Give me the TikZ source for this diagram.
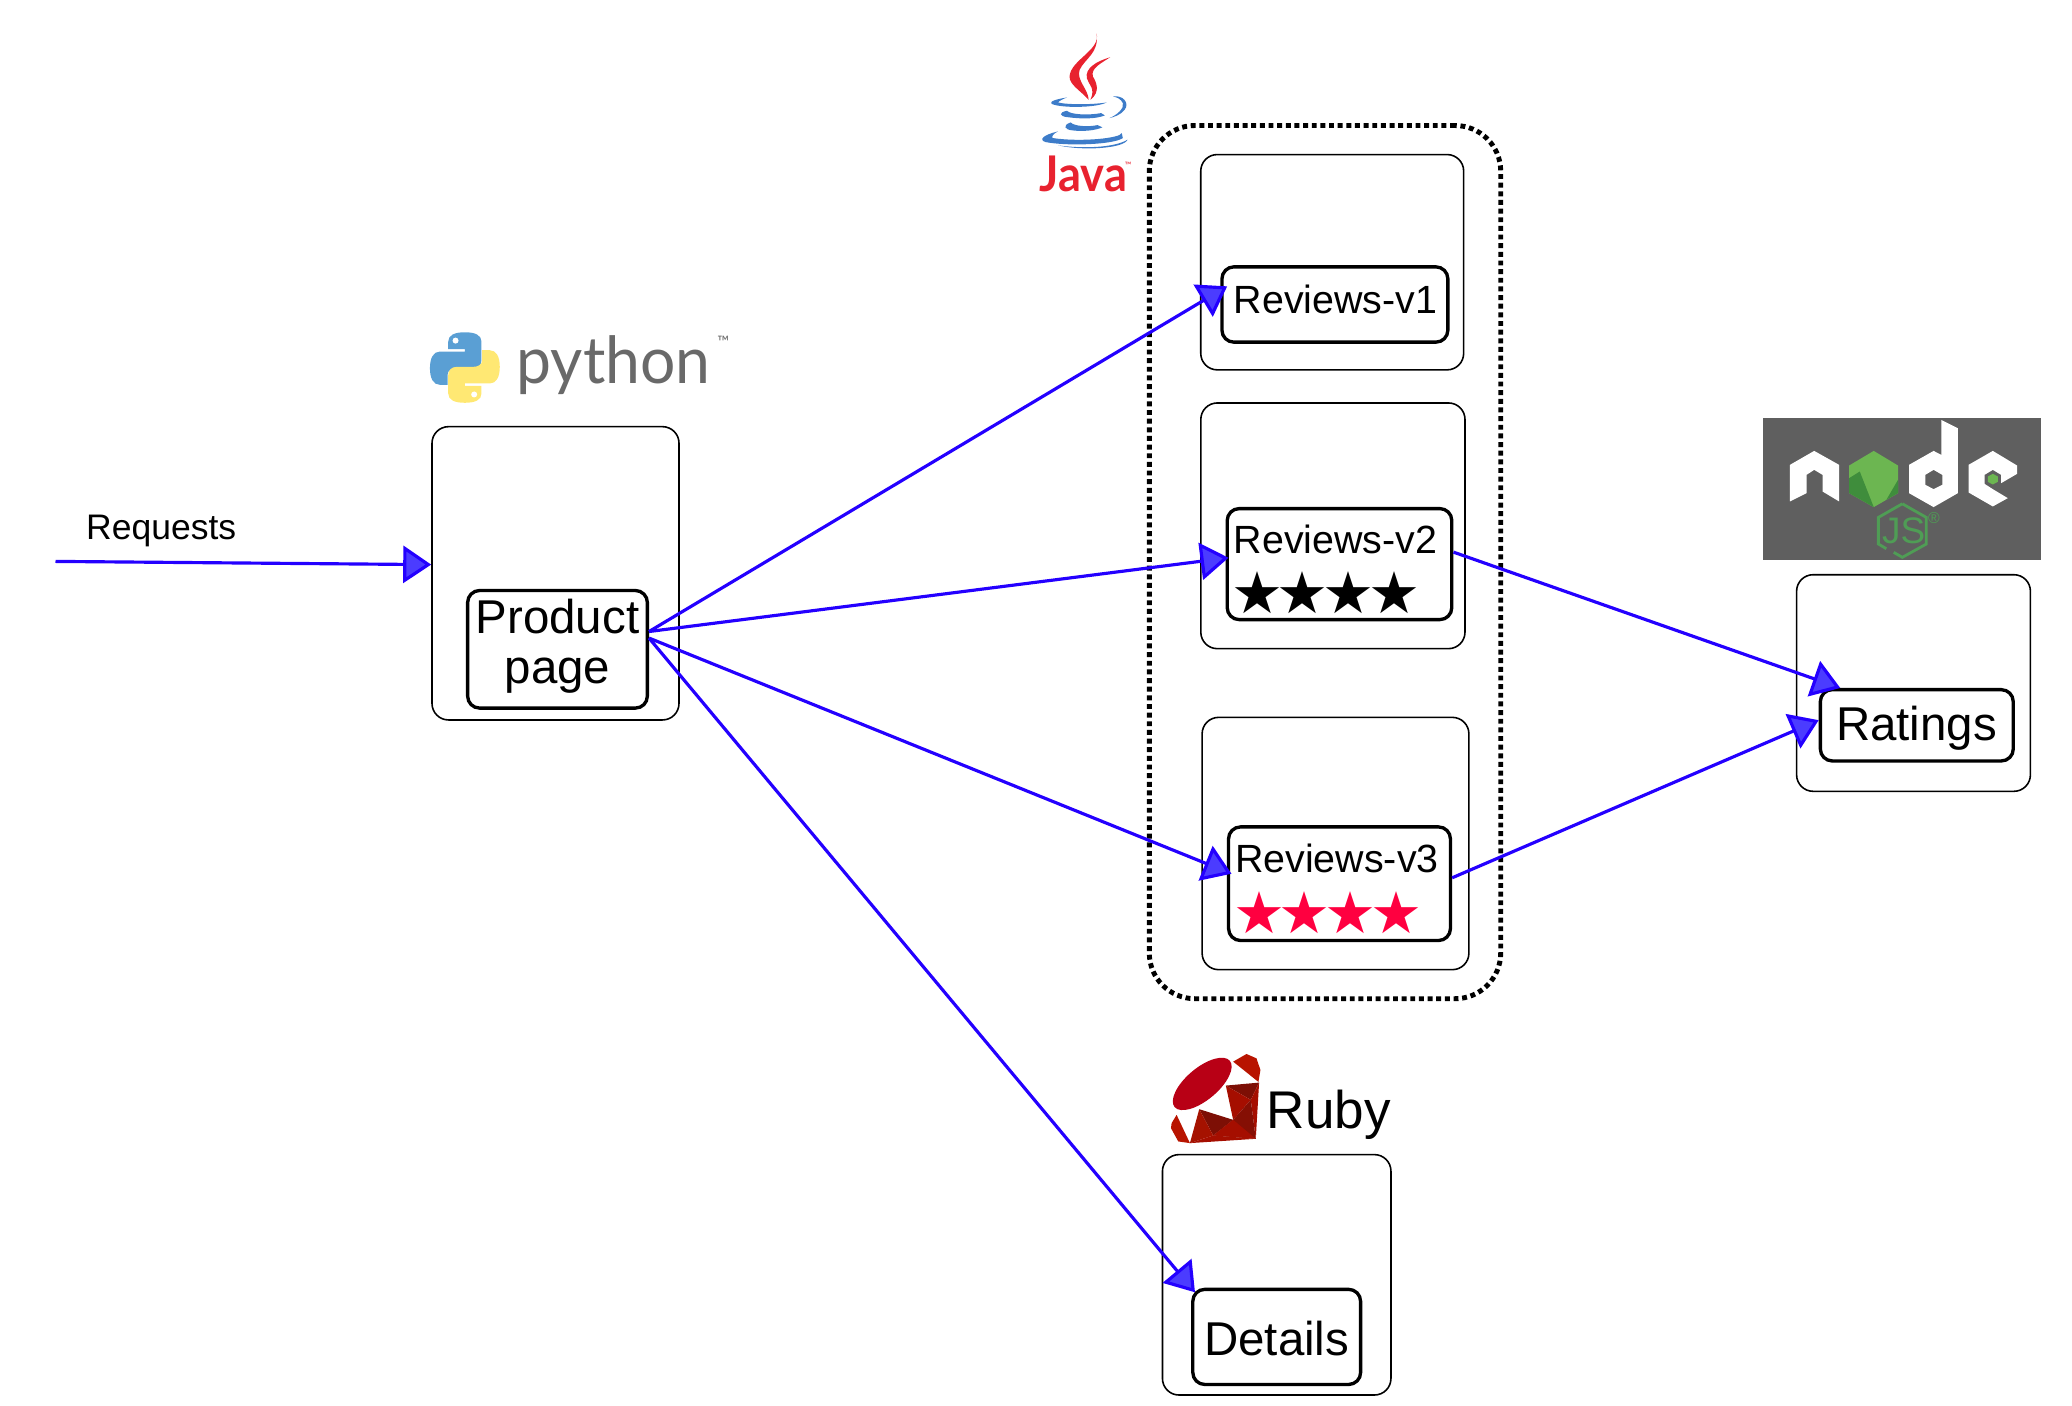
\documentclass[tikz,border=0pt]{standalone}
\usepackage{fontspec}
\setmainfont{Liberation Sans}
\newfontfamily\starfont{DejaVu Sans}
\newfontfamily\logofont{Lato}
\usetikzlibrary{positioning,
        arrows.meta}
\definecolor{linkblue}{HTML}{2400FF}
\definecolor{tipblue}{HTML}{4B3CFF}
\definecolor{pyblue}{HTML}{5A9FD4}
\definecolor{pyyellow}{HTML}{FFE873}
\definecolor{pygrey}{HTML}{696969}
\definecolor{javared}{HTML}{E8222F}
\definecolor{javablue}{HTML}{3D7CC9}
\definecolor{rubyred}{HTML}{B80015}
\definecolor{rubydark}{HTML}{7D0F05}
\definecolor{rubymid}{HTML}{A50E00}
\definecolor{rubylight}{HTML}{B81400}
\definecolor{nodegrey}{HTML}{5F5F5F}
\definecolor{nodegreen}{HTML}{6CB651}
\definecolor{nodedark}{HTML}{3F8D3C}
\definecolor{jsgreen}{HTML}{4F9D55}
\definecolor{starred}{HTML}{FF0040}
\newcommand{\fourstars}{★\kern-1.8pt★\kern-1.8pt★\kern-1.8pt★}
\tikzset{
        podbox/.style={draw,rounded corners=4.7pt,line width=0.45pt,inner sep=0pt},
        svcbox/.style={draw,rounded corners=3.4pt,line width=0.95pt,inner sep=0pt,align=center},
        svcbig/.style={svcbox,font=\fontsize{13.5}{14.3}\selectfont},
        versionlabel/.style={inner sep=0pt,font=\fontsize{11.2}{13}\selectfont},
        starrow/.style={inner sep=0pt,font=\starfont\fontsize{16.5}{17}\selectfont},
        call/.style={draw=linkblue,line width=0.9pt,-{Triangle[length=0.28cm,width=0.37cm,fill=tipblue]}}
}
\begin{document}
\begin{tikzpicture}
        \useasboundingbox (0,0) rectangle (20.72,-14.05);

        \node [draw,line width=1.4pt,dash pattern=on 1.4pt off 1.06pt,rounded corners=13pt,minimum width=3.514cm,minimum height=8.732cm] (java) at (13.25,-5.621) {};

        \node [podbox,minimum width=2.47cm,minimum height=2.933cm] (productpod) at (5.555,-5.733) {};
        \node [podbox,minimum width=2.629cm,minimum height=2.153cm] (v1pod) at (13.322,-2.622) {};
        \node [podbox,minimum width=2.642cm,minimum height=2.457cm] (v2pod) at (13.329,-5.258) {};
        \node [podbox,minimum width=2.668cm,minimum height=2.523cm] (v3pod) at (13.355,-8.435) {};
        \node [podbox,minimum width=2.338cm,minimum height=2.166cm] (ratingspod) at (19.135,-6.83) {};
        \node [podbox,minimum width=2.285cm,minimum height=2.404cm] (detailspod) at (12.767,-12.748) {};

        \node [svcbox,minimum width=1.797cm,minimum height=1.176cm] (product) at (5.575,-6.493) {};
        \node [svcbox,minimum width=2.259cm,minimum height=0.753cm] (v1) at (13.349,-3.045) {};
        \node [svcbox,minimum width=2.246cm,minimum height=1.11cm] (v2) at (13.395,-5.641) {};
        \node [svcbox,minimum width=2.219cm,minimum height=1.136cm] (v3) at (13.395,-8.837) {};
        \node [svcbig,minimum width=1.929cm,minimum height=0.713cm] (ratings) at (19.168,-7.253) {};
        \node [svcbig,minimum width=1.678cm,minimum height=0.951cm] (details) at (12.767,-13.369) {};

        \node [inner sep=0pt,align=center,font=\fontsize{13.5}{14.3}\selectfont] (productlabel) at (5.575,-6.465) {Product\\page};
        \node [inner sep=0pt,font=\fontsize{13.5}{14.3}\selectfont] (ratingslabel) at (19.165,-7.28) {Ratings};
        \node [inner sep=0pt,font=\fontsize{13.5}{14.3}\selectfont] (detailslabel) at (12.767,-13.382) {Details};
        \node [versionlabel] (v1label) at (13.355,-2.999) {Reviews-v1};
        \node [versionlabel] (v2label) at (13.355,-5.39) {Reviews-v2};
        \node [versionlabel] (v3label) at (13.369,-8.587) {Reviews-v3};
        \node [starrow] (v2stars) at (13.256,-5.931) {\fourstars};
        \node [starrow,text=starred] (v3stars) at (13.276,-9.128) {\fourstars};

        \node [inner sep=0pt,font=\fontsize{10.1}{12}\selectfont] (requests) at (1.612,-5.311) {Requests};
        \node [inner sep=0pt,font=\fontsize{15.1}{17}\selectfont] (ruby) at (13.289,-11.146) {Ruby};
        \coordinate (client) at (0.555,-5.614);

        \draw [call] (client) -- (productpod.176);
        \draw [call,shorten >=-0.08cm] (product.11) -- (v1.173);
        \draw [call,shorten >=-0.03cm] (product.11) -- (v2.177);
        \draw [call,shorten >=-0.05cm] (product.7) -- (v3.174.5);
        \draw [call,shorten >=-0.06cm] (product.7) -- (details.north west);
        \draw [call] (v2.6) -- (ratings.154.3);
        \draw [call] (v3.3) -- (ratings.177.6);

        \begin{scope}[shift={(4,-3)},x=0.003333cm,y=-0.003333cm]
                \fill [pyblue] (195,97) .. controls (165,97) and (145,105) .. (145,125) -- (145,148) -- (195,148) -- (195,155) -- (120,155) .. controls (100,155) and (90,175) .. (90,205) .. controls (90,235) and (100,255) .. (120,255) -- (143,255) -- (143,225) .. controls (143,212) and (155,205) .. (170,205) -- (220,205) .. controls (235,205) and (245,195) .. (245,180) -- (245,125) .. controls (245,105) and (225,97) .. (195,97) -- cycle;
                \fill [pyyellow] (195,309) .. controls (225,309) and (245,301) .. (245,281) -- (245,258) -- (195,258) -- (195,251) -- (270,251) .. controls (290,251) and (300,231) .. (300,201) .. controls (300,171) and (290,151) .. (270,151) -- (247,151) -- (247,181) .. controls (247,194) and (235,201) .. (220,201) -- (170,201) .. controls (155,201) and (145,211) .. (145,226) -- (145,281) .. controls (145,301) and (165,309) .. (195,309) -- cycle;
                \fill [white] (167,122) circle [radius=0.03cm];
                \fill [white] (223,284) circle [radius=0.03cm];
                \node [anchor=base,inner sep=0pt,text=pygrey,transform shape,xscale=0.96,font=\logofont\fontsize{18.5}{20}\selectfont] (pythonword) at (642,250) {python};
                \node [inner sep=0pt,text=pygrey,font=\logofont\fontsize{4.5}{5}\selectfont] (pythontm) at (972,125) {™};
        \end{scope}

        \begin{scope}[shift={(9.986,0)},x=0.0036cm,y=-0.003333cm]
                \fill [javared] (272,100) .. controls (285,150) and (200,180) .. (197,230) .. controls (197,255) and (225,270) .. (250,300) .. controls (250,270) and (215,240) .. (225,210) .. controls (240,175) and (280,160) .. (272,100) -- cycle;
                \fill [javared] (310,172) .. controls (270,185) and (240,205) .. (245,235) .. controls (250,255) and (270,265) .. (255,300) .. controls (285,275) and (270,245) .. (262,230) .. controls (255,205) and (285,190) .. (310,172) -- cycle;
                \fill [javablue] (190,293) .. controls (160,298) and (140,305) .. (147,312) .. controls (170,325) and (270,325) .. (300,308) .. controls (260,315) and (190,315) .. (165,308) .. controls (170,302) and (180,297) .. (190,293) -- cycle;
                \fill [javablue] (318,290) .. controls (345,285) and (365,310) .. (350,330) .. controls (340,345) and (320,352) .. (308,355) .. controls (330,345) and (350,325) .. (345,310) .. controls (340,298) and (330,293) .. (318,290) -- cycle;
                \fill [javablue] (190,333) .. controls (165,338) and (170,350) .. (190,352) .. controls (230,358) and (270,358) .. (295,347) -- (285,340) .. controls (250,347) and (200,345) .. (190,333) -- cycle;
                \fill [javablue] (200,368) .. controls (175,378) and (185,390) .. (205,392) .. controls (235,396) and (270,392) .. (288,383) -- (275,376) .. controls (250,382) and (210,380) .. (200,368) -- cycle;
                \fill [javablue] (165,395) .. controls (125,405) and (110,420) .. (130,427) .. controls (190,440) and (320,435) .. (345,415) -- (342,400) .. controls (340,415) and (230,428) .. (150,415) .. controls (145,410) and (155,400) .. (165,395) -- cycle;
                \fill [javablue] (165,437) .. controls (230,447) and (320,445) .. (358,420) .. controls (350,445) and (240,455) .. (165,437) -- cycle;
                \node [anchor=base,inner sep=0pt,text=javared,transform shape,xscale=0.92,font=\logofont\bfseries\fontsize{14}{15}\selectfont] (javaword) at (235,575) {Java};
                \node [inner sep=0pt,text=javared,font=\logofont\fontsize{2.5}{3}\selectfont] (javatm) at (360,498) {™};
        \end{scope}

        \begin{scope}[shift={(11.5,-10.4)},x=0.003333cm,y=-0.003333cm]
                \fill [rubyred] (157,132) ellipse [x radius=0.36cm,y radius=0.16cm,rotate=40];
                \fill [rubylight] (250,65) -- (290,42) -- (320,55) -- (332,90) -- (326,126) -- cycle;
                \fill [rubydark] (228,137) -- (328,128) -- (303,180) -- cycle;
                \fill [rubymid] (228,137) -- (303,180) -- (250,240) -- cycle;
                \fill [rubymid] (303,180) -- (328,128) -- (318,297) -- cycle;
                \fill [rubydark!80!rubymid] (303,180) -- (250,240) -- (190,287) -- (318,297) -- cycle;
                \fill [rubydark] (148,208) -- (250,240) -- (190,287) -- cycle;
                \fill [rubymid] (190,287) -- (250,240) -- (318,297) -- cycle;
                \fill [rubylight!90!black] (148,208) -- (190,287) -- (120,310) -- cycle;
                \fill [rubymid] (190,287) -- (318,297) -- (120,310) -- cycle;
                \fill [rubylight] (80,225) -- (120,310) -- (85,305) -- (63,265) -- (65,250) -- cycle;
        \end{scope}

        \begin{scope}[shift={(17.5,-4)},x=0.003333cm,y=-0.003333cm]
                \fill [nodegrey] (40,55) rectangle (875,480);
                \fill [white] (120,195) -- (193,153) -- (268,195) -- (268,305) -- (218,275) -- (218,225) -- (193,210) -- (170,225) -- (170,280) -- (120,305) -- cycle;
                \fill [nodegreen] (372,153) -- (445,197) -- (445,280) -- (372,322) -- (298,280) -- (298,197) -- cycle;
                \fill [nodedark] (298,235) -- (330,215) -- (372,322) -- (298,280) -- cycle;
                \fill [nodedark] (445,240) -- (445,280) -- (410,300) -- cycle;
                \fill [white,even odd rule] (575,60) -- (625,85) -- (625,280) -- (552,322) -- (478,280) -- (478,195) -- (552,153) -- (575,165) -- cycle (552,210) -- (578,225) -- (578,255) -- (552,268) -- (527,255) -- (527,225) -- cycle;
                \fill [white] (730,153) -- (803,197) -- (803,222) -- (755,250) -- (755,225) -- (730,210) -- (705,225) -- (705,252) -- (730,268) -- (775,295) -- (730,320) -- (657,278) -- (657,195) -- cycle;
                \fill [nodegreen] (730,222) -- (745,230) -- (745,246) -- (730,254) -- (715,246) -- (715,230) -- cycle;
                \draw [jsgreen,line width=0.8pt] (458,312) -- (530,353) -- (530,433) -- (458,473) -- (432,458);
                \draw [jsgreen,line width=0.8pt] (458,312) -- (386,353) -- (386,433) -- (410,447);
                \node [inner sep=0pt,text=jsgreen,font=\fontsize{10.5}{11}\selectfont] (jsword) at (462,393) {JS};
                \node [inner sep=0pt,text=jsgreen,font=\fontsize{4.5}{5}\selectfont] (jsmark) at (553,354) {®};
        \end{scope}
\end{tikzpicture}
\end{document}
